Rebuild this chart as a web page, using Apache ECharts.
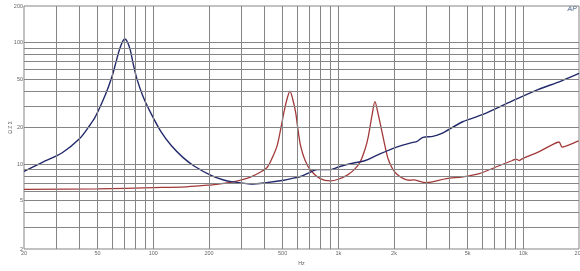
<!DOCTYPE html>
<html><head><meta charset="utf-8">
<script src="https://cdn.jsdelivr.net/npm/echarts@6/dist/echarts.min.js"></script>
<style>html,body{margin:0;padding:0;background:#fff}#c{width:580px;height:271px}</style>
</head><body><div id="c"></div>
<script>
// ---- data ----
const blueFreq = [20,25,32.2,40,45,48.6,55,59.7,63,66.2,70,72,74.9,78,81.3,88,97.9,110,125,145,167,205,240,269,300,337,400,508,580,625,708,766,906,1000,1160,1400,1613,2066,2535,2650,2870,3245,3600,4700,6000,8730,12000,16000,20000];
const blueZ    = [8.7,10.3,12.4,16.2,20.5,24.5,37,52,70,91,107,103,88,66,51,36,25.5,18.5,14.2,11.3,9.6,8.08,7.4,7.14,7.0,6.85,7.0,7.36,7.7,7.9,8.6,9.0,9.0,9.46,10.07,10.7,11.8,13.8,15.1,15.3,16.6,16.9,17.8,22.3,25.5,33.1,41,48.2,55.7];
const redFreq  = [20,50,100,150,197,240,269,300,337,380,414,440,467,490,508,530,548,565,588,606,625,660,708,798,906,1000,1112,1220,1312,1400,1455,1520,1578,1640,1715,1780,1860,1960,2066,2250,2430,2535,2990,3835,4700,5780,7110,8730,9100,9500,9800,12100,14300,15600,16200,17700,19900];
const redZ     = [6.18,6.25,6.4,6.5,6.7,6.95,7.14,7.4,7.84,8.6,9.46,11.3,14.2,20,26.6,35,39.9,35,26.6,19,14.2,10.8,8.9,7.6,7.28,7.5,8.08,9,10.4,13.5,17.1,25,32.7,26,19,14.5,11,9.2,8.3,7.6,7.36,7.4,7.04,7.6,7.84,8.34,9.46,10.7,11.0,10.7,11.0,12.6,14.4,15.2,13.8,14.4,15.5];
const xGridValues = [30,40,50,60,70,80,90,100,200,300,400,500,600,700,800,900,1000,2000,3000,4000,5000,6000,7000,8000,9000,10000];
const yGridValues = [3,4,5,6,7,8,9,10,20,30,40,50,60,70,80,90,100];
const xTickValues = [20,50,100,200,500,1000,2000,5000,10000,20000];
const xTickLabels = ['20','50','100','200','500','1k','2k','5k','10k','20k'];
const yTickValues = [2,5,10,20,50,100,200];
const yTickLabels = ['2','5','10','20','50','100','200'];
const xMin = 20, xMax = 20000, yMin = 2, yMax = 200;

const gridColor = '#858585';
const labelStyle = {fontSize: 5.5, color: '#666', fontFamily: 'Liberation Sans, Arial, sans-serif'};

const gridLines = [];
xGridValues.forEach(v => gridLines.push([{coord:[v, yMin]},{coord:[v, yMax]}]));
yGridValues.forEach(v => gridLines.push([{coord:[xMin, v]},{coord:[xMax, v]}]));

const labelLines = [];
xTickValues.forEach((v,i) => labelLines.push([
  {coord:[v, yMin], label:{show:true, position:'start', formatter: xTickLabels[i], distance: 1, ...labelStyle}},
  {coord:[v, yMax]}]));
yTickValues.forEach((v,i) => labelLines.push([
  {coord:[xMin, v], label:{show:true, position:'start', formatter: yTickLabels[i], distance: 1, ...labelStyle}},
  {coord:[xMax, v]}]));

const chart = echarts.init(document.getElementById('c'), null, {renderer:'canvas'});
chart.setOption({
  animation: false,
  backgroundColor: '#fff',
  grid: {left: 21, right: 1, top: 6, bottom: 20, show: true, borderColor: gridColor, borderWidth: 1},
  xAxis: {type:'log', logBase:10, min:xMin, max:xMax,
    name:'Hz', nameLocation:'middle', nameGap: 11, nameTextStyle:{fontSize:5.5, color:'#666'},
    axisLine:{show:false}, axisTick:{show:false}, axisLabel:{show:false}, splitLine:{show:false}},
  yAxis: {type:'log', logBase:10, min:yMin, max:yMax,
    name:'Ω Z Σ', nameLocation:'middle', nameGap: 11, nameRotate: 90, nameTextStyle:{fontSize:5, color:'#666'},
    axisLine:{show:false}, axisTick:{show:false}, axisLabel:{show:false}, splitLine:{show:false}},
  graphic: [{type:'text', right: 3, top: 6, style:{text:'AP', fontSize: 7, fontStyle:'italic', fontWeight:'bold', fill:'#8090a8'}}],
  series: [
    {type:'line', data: [], z: 1, silent: true,
      markLine:{silent:true, symbol:['none','none'], animation:false, label:{show:false},
        lineStyle:{color: gridColor, width: 1, type:'solid'}, emphasis:{disabled:true}, data: gridLines}},
    {type:'line', data: [], z: 1, silent: true,
      markLine:{silent:true, symbol:['none','none'], animation:false,
        lineStyle:{color: 'rgba(0,0,0,0)', width: 1}, emphasis:{disabled:true}, data: labelLines}},
    {type:'line', name:'red', z: 3, data: redFreq.map((f,i)=>[f, redZ[i]]), showSymbol:false, smooth:0.3,
      lineStyle:{color:'#a33a3a', width:1.3}},
    {type:'line', name:'blue', z: 4, data: blueFreq.map((f,i)=>[f, blueZ[i]]), showSymbol:false, smooth:0.3,
      lineStyle:{color:'#232a6c', width:1.4}}
  ]
});
</script></body></html>
